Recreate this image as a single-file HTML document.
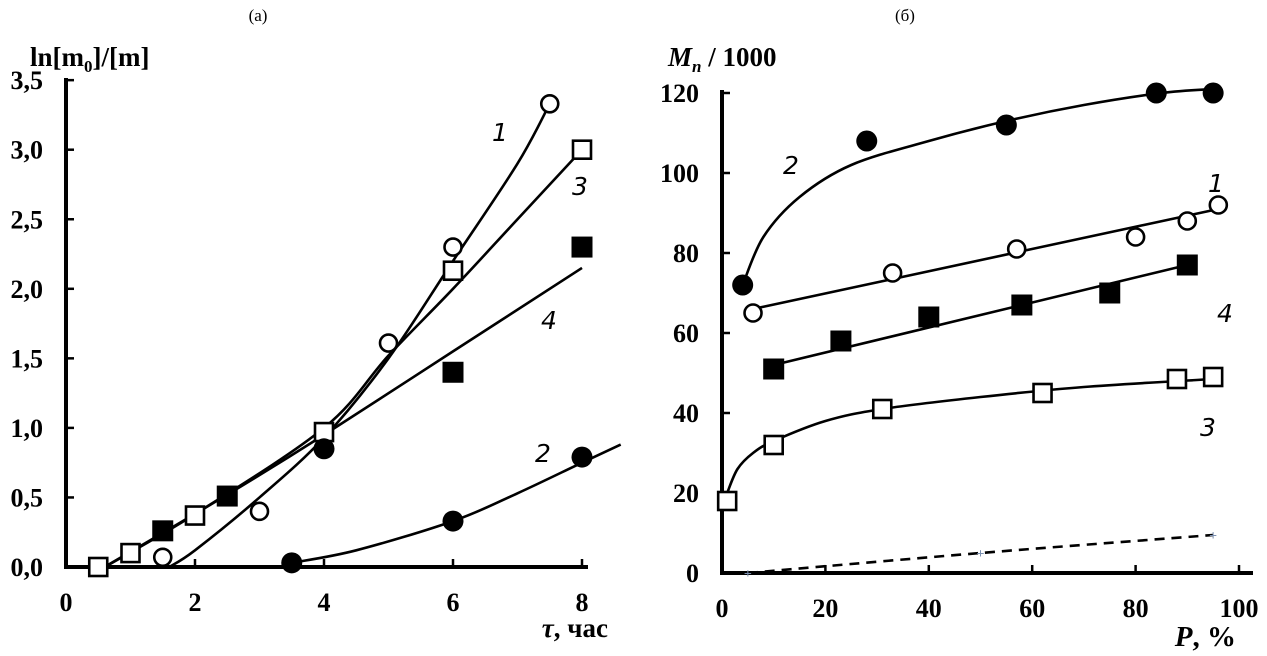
<!DOCTYPE html>
<html><head><meta charset="utf-8"><style>
body{margin:0;background:#fff;}
svg{display:block;font-family:"Liberation Serif",serif;}
.tk{font-size:26px;font-weight:bold;}
</style></head><body>
<svg id="s" width="1267" height="656" viewBox="0 0 1267 656"></svg>
<script>
// ---- Chart (a) data ----
const aS1x=[1.5,3,5,6,7.5], aS1y=[0.07,0.4,1.61,2.3,3.33];
const aF1x=[1.6,2,3,4,5,6,7,7.5], aF1y=[0,0.12,0.5,0.93,1.5,2.2,2.9,3.33];
const aS3x=[0.5,1,2,4,6,8], aS3y=[0,0.1,0.37,0.97,2.13,3.0];
const aF3x=[0.6,2,4,5,6,7,8], aF3y=[0,0.38,1.0,1.52,2.0,2.5,3.0];
const aS4x=[1.5,2.5,6,8], aS4y=[0.26,0.51,1.4,2.3];
const aF4x=[0.6,2.5,4,6,8], aF4y=[0,0.52,0.95,1.55,2.15];
const aS2x=[3.5,4,6,8], aS2y=[0.03,0.85,0.33,0.79];
const aF2x=[3.5,4.5,6,7,8,8.6], aF2y=[0.03,0.12,0.33,0.53,0.75,0.88];
const aXt=[0,2,4,6,8], aYt=[0,0.5,1,1.5,2,2.5,3,3.5];
// ---- Chart (b) data ----
const bS2x=[4,28,55,84,95], bS2y=[72,108,112,120,120];
const bF2x=[4,8,15,25,40,55,70,85,95], bF2y=[72,84,94,102,108,113,117,120,121];
const bS1x=[6,33,57,80,90,96], bS1y=[65,75,81,84,88,92];
const bF1x=[6,96], bF1y=[66,91];
const bS4x=[10,23,40,58,75,90], bS4y=[51,58,64,67,70,77];
const bF4x=[10,90], bF4y=[52,77];
const bS3x=[1,10,31,62,88,95], bS3y=[18,32,41,45,48.5,49];
const bF3x=[1,3,6,10,20,31,50,70,95], bF3y=[20,26,30,33,38,41,44,46.5,48.5];
const bDx=[5,50,95], bDy=[0,5,9.5];
const bXt=[0,20,40,60,80,100], bYt=[0,20,40,60,80,100,120];

const svg=document.getElementById('s');
const NS='http://www.w3.org/2000/svg';
function mk(tag,at,txt){const e=document.createElementNS(NS,tag);for(const k in at)e.setAttribute(k,at[k]);if(txt!==undefined)e.textContent=txt;svg.appendChild(e);return e;}
const ax=x=>66+x*64.5, ay=y=>567-y*139.1;
const bx=x=>722+x*5.17, by=y=>573-y*4.0;

function smooth(X,Y,fx,fy){let p=[];for(let i=0;i<X.length;i++)p.push([fx(X[i]),fy(Y[i])]);
 if(p.length<3)return 'M'+p.map(q=>q.join(',')).join('L');
 let d='M'+p[0][0]+','+p[0][1];
 for(let i=0;i<p.length-1;i++){const p0=p[i-1]||p[i],p1=p[i],p2=p[i+1],p3=p[i+2]||p2;
  d+='C'+(p1[0]+(p2[0]-p0[0])/6)+','+(p1[1]+(p2[1]-p0[1])/6)+' '+(p2[0]-(p3[0]-p1[0])/6)+','+(p2[1]-(p3[1]-p1[1])/6)+' '+p2[0]+','+p2[1];}
 return d;}
function fit(X,Y,fx,fy,name,dash){const e=mk('path',{d:smooth(X,Y,fx,fy),fill:'none',stroke:'#000','stroke-width':2.6});if(dash)e.setAttribute('stroke-dasharray','10,7');

}
function pts(X,Y,fx,fy,type,name){for(let i=0;i<X.length;i++){const x=fx(X[i]),y=fy(Y[i]);let e;
 if(type=='oc')e=mk('circle',{cx:x,cy:y,r:8.5,fill:'#fff',stroke:'#000','stroke-width':2.6});
 if(type=='fc')e=mk('circle',{cx:x,cy:y,r:10.5,fill:'#000'});
 if(type=='os')e=mk('rect',{x:x-9,y:y-9,width:18,height:18,fill:'#fff',stroke:'#000','stroke-width':2.6});
 if(type=='fs')e=mk('rect',{x:x-10.5,y:y-10.5,width:21,height:21,fill:'#000'});
 if(type=='pl')e=mk('text',{x:x,y:y+5,'text-anchor':'middle','font-size':14,fill:'#7a8fb0','font-weight':'bold'},'+');
 
 }}
function axes(x0,x1,y0,y1,xt,yt,fx,fy,pre){
 let e=mk('path',{d:`M${x0},${y1}V${y0}H${x1}`,fill:'none',stroke:'#000','stroke-width':4});
 
 
 xt.forEach(v=>{mk('line',{x1:fx(v),x2:fx(v),y1:y0,y2:y0-8,stroke:'#000','stroke-width':2.5});
  const t=mk('text',{x:fx(v),y:y0+44,'text-anchor':'middle',class:'tk'},String(v));
  
  });
 yt.forEach(v=>{mk('line',{x1:x0,x2:x0+8,y1:fy(v),y2:fy(v),stroke:'#000','stroke-width':2.5});
  const t=mk('text',{x:x0-23,y:fy(v)+9,'text-anchor':'end',class:'tk'},pre=='a'?v.toFixed(1).replace('.',','):String(v));
  
  });}
axes(66,588,567,78,aXt,aYt,ax,ay,'a');
axes(722,1253,573,90,bXt,bYt,bx,by,'b');

fit(aF1x,aF1y,ax,ay,'a-fit-1');fit(aF3x,aF3y,ax,ay,'a-fit-3');fit(aF4x,aF4y,ax,ay,'a-fit-4');fit(aF2x,aF2y,ax,ay,'a-fit-2');
pts(aS1x,aS1y,ax,ay,'oc','a-point-1');pts(aS3x,aS3y,ax,ay,'os','a-point-3');pts(aS4x,aS4y,ax,ay,'fs','a-point-4');pts(aS2x,aS2y,ax,ay,'fc','a-point-2');
fit(bF2x,bF2y,bx,by,'b-fit-2');fit(bF1x,bF1y,bx,by,'b-fit-1');fit(bF4x,bF4y,bx,by,'b-fit-4');fit(bF3x,bF3y,bx,by,'b-fit-3');fit(bDx,bDy,bx,by,'b-dashed-line',true);
pts(bS2x,bS2y,bx,by,'fc','b-point-2');pts(bS1x,bS1y,bx,by,'oc','b-point-1');pts(bS4x,bS4y,bx,by,'fs','b-point-4');pts(bS3x,bS3y,bx,by,'os','b-point-3');pts(bDx,bDy,bx,by,'pl','b-dashed-point');

function lab(x,y,t,name,extra){const e=mk('text',Object.assign({x:x,y:y},extra||{}),t);

return e;}
const it={'font-style':'italic','font-size':25,'font-family':'"DejaVu Sans",sans-serif','text-anchor':'middle'};
lab(500,141,'1','a-curve-label-1',it);lab(580,195,'3','a-curve-label-3',it);lab(549,329,'4','a-curve-label-4',it);lab(543,462,'2','a-curve-label-2',it);
lab(791,174,'2','b-curve-label-2',it);lab(1216,192,'1','b-curve-label-1',it);lab(1225,322,'4','b-curve-label-4',it);lab(1208,436,'3','b-curve-label-3',it);
lab(258,21,'(a)','a-title',{'text-anchor':'middle','font-size':17});
lab(905,21,'(б)','b-title',{'text-anchor':'middle','font-size':17});
const yt=lab(30,66,'','a-y-axis-title',{'font-size':27,'font-weight':'bold'});
yt.innerHTML='ln[m<tspan font-size="17" dy="6">0</tspan><tspan dy="-6">]/[m]</tspan>';
const yb=lab(668,66,'','b-y-axis-title',{'font-size':27,'font-weight':'bold'});
yb.innerHTML='<tspan font-style="italic">M</tspan><tspan font-style="italic" font-size="17" dy="6">n</tspan><tspan dy="-6"> / 1000</tspan>';
const xa=lab(608,637,'','a-x-axis-title',{'text-anchor':'end','font-size':27,'font-weight':'bold'});
xa.innerHTML='<tspan font-style="italic">τ</tspan>, час';
const xb=lab(1236,646,'','b-x-axis-title',{'text-anchor':'end','font-size':29,'font-weight':'bold'});
xb.innerHTML='<tspan font-style="italic">P</tspan>, %';
</script>
</body></html>
